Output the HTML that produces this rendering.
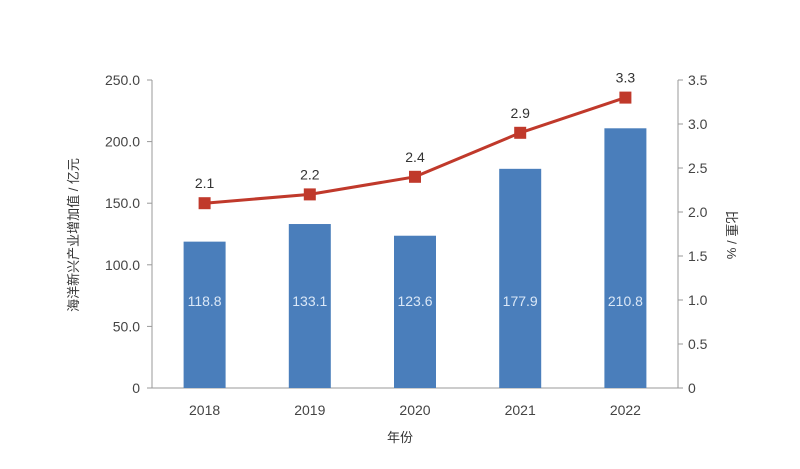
<!DOCTYPE html>
<html><head><meta charset="utf-8"><style>
body{margin:0;background:#fff;}
svg text{font-family:"Liberation Sans","Noto Sans CJK SC",sans-serif;}
</style></head><body>
<svg id="chart" width="800" height="464" xmlns="http://www.w3.org/2000/svg"></svg>
<script>
const years=["2018","2019","2020","2021","2022"];
const values=[118.8,133.1,123.6,177.9,210.8];
const shares=[2.1,2.2,2.4,2.9,3.3];
const leftTicks=[0,50,100,150,200,250];
const leftTickLabels=["0","50.0","100.0","150.0","200.0","250.0"];
const rightTicks=[0,0.5,1,1.5,2,2.5,3,3.5];
const rightTickLabels=["0","0.5","1.0","1.5","2.0","2.5","3.0","3.5"];

const svg=document.getElementById('chart');
const NS='http://www.w3.org/2000/svg';
const x0=152,x1=678,yB=388,yT=80;
const yL=v=>yB-(v/250)*(yB-yT);
const yR=v=>yB-(v/3.5)*(yB-yT);
const band=(x1-x0)/years.length;
const xC=i=>x0+band*(i+0.5);
function mk(tag,attrs,txt){const e=document.createElementNS(NS,tag);for(const k in attrs)e.setAttribute(k,attrs[k]);if(txt!==undefined)e.textContent=txt;svg.appendChild(e);return e;}

// axes
let e=mk('line',{x1:x0,y1:yT,x2:x0,y2:yB,stroke:'#999','stroke-width':1});


e=mk('line',{x1:x1,y1:yT,x2:x1,y2:yB,stroke:'#999','stroke-width':1});


e=mk('line',{x1:x0,y1:yB,x2:x1,y2:yB,stroke:'#999','stroke-width':1});



leftTicks.forEach((t,i)=>{
  mk('line',{x1:x0-5,y1:yL(t),x2:x0,y2:yL(t),stroke:'#999'});
  const tx=mk('text',{x:x0-12,y:yL(t)+5,'text-anchor':'end','font-size':14,fill:'#444'},leftTickLabels[i]);
  
  
});
rightTicks.forEach((t,i)=>{
  mk('line',{x1:x1,y1:yR(t),x2:x1+5,y2:yR(t),stroke:'#999'});
  const tx=mk('text',{x:x1+10,y:yR(t)+5,'text-anchor':'start','font-size':14,fill:'#444'},rightTickLabels[i]);
  
  
});

// bars
years.forEach((y,i)=>{
  const r=mk('rect',{x:xC(i)-21,y:yL(values[i]),width:42,height:yB-yL(values[i]),fill:'#4a7ebb'});
  
  
  const t=mk('text',{x:xC(i),y:306,'text-anchor':'middle','font-size':14,fill:'#dbe8f7'},values[i].toFixed(1));
  
  
  const l=mk('text',{x:xC(i),y:415,'text-anchor':'middle','font-size':14,fill:'#444'},y);
  
  
});

// line
const pts=shares.map((s,i)=>xC(i)+','+yR(s)).join(' ');
e=mk('polyline',{points:pts,fill:'none',stroke:'#c0392b','stroke-width':3});


shares.forEach((s,i)=>{
  const m=mk('rect',{x:xC(i)-6,y:yR(s)-6,width:12,height:12,fill:'#c0392b'});
  
  
  const t=mk('text',{x:xC(i),y:yR(s)-15,'text-anchor':'middle','font-size':14,fill:'#333'},s.toFixed(1));
  
  
});

// titles
e=mk('text',{x:0,y:0,transform:'translate(78,235) rotate(-90)','text-anchor':'middle','font-size':13,fill:'#333'},'海洋新兴产业增加值 / 亿元');


e=mk('text',{x:0,y:0,transform:'translate(727,235) rotate(90)','text-anchor':'middle','font-size':13,fill:'#333'},'比重 / %');


e=mk('text',{x:400,y:442,'text-anchor':'middle','font-size':13,fill:'#333'},'年份');


</script>
</body></html>
